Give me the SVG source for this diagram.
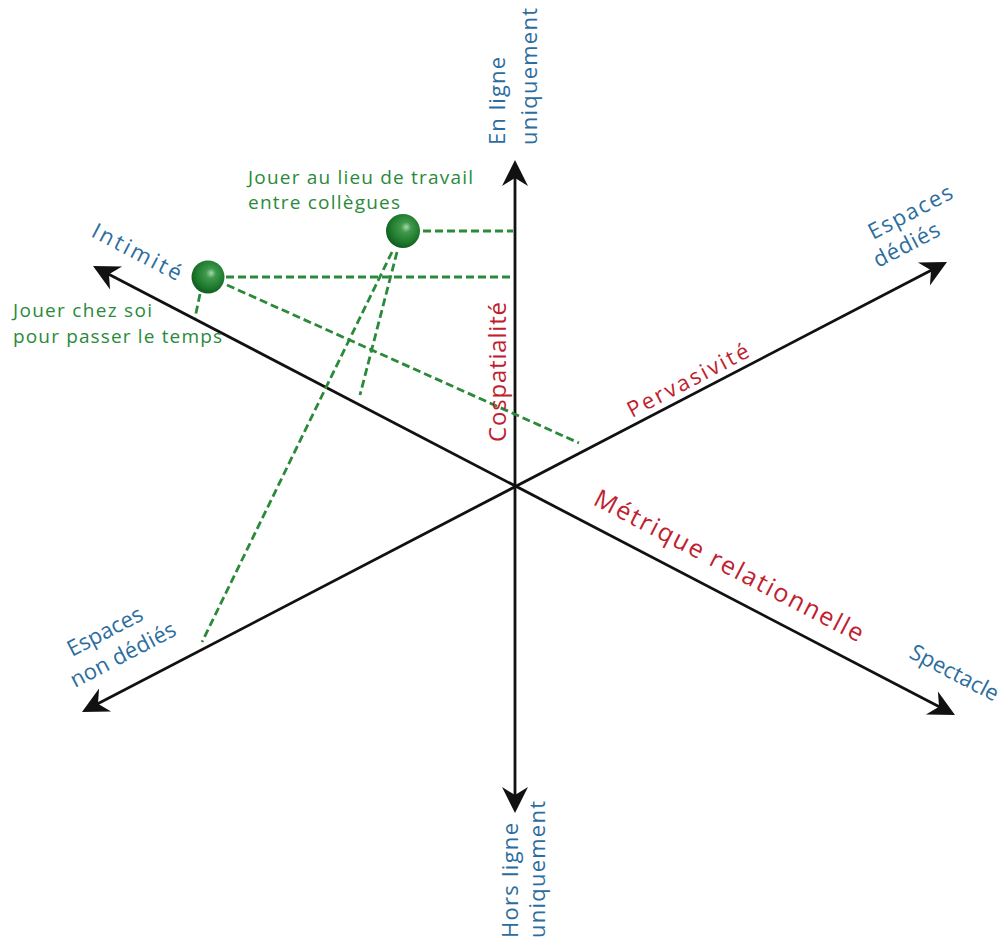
<svg xmlns="http://www.w3.org/2000/svg" width="1005" height="937" viewBox="0 0 1005 937">
<style>
.axis{stroke:#111;stroke-width:2.8;fill:none;marker-start:url(#arr);marker-end:url(#arr)}
.dash{stroke:#2a8a3a;stroke-width:2.8;stroke-dasharray:8 4;fill:none}
.blue{font-family:"Open Sans","Liberation Sans",sans-serif;font-size:22px;fill:#2c6d9e}
.red{font-family:"Open Sans","Liberation Sans",sans-serif;font-size:24px;fill:#c0202e}
.green{font-family:"Open Sans","Liberation Sans",sans-serif;font-size:19px;fill:#2a8a3a}
</style>
<defs>
<marker id="arr" markerUnits="userSpaceOnUse" markerWidth="40" markerHeight="40" refX="0" refY="0" viewBox="-20 -20 40 40" orient="auto-start-reverse" overflow="visible">
<path d="M8,0 L-18,-13 L-10,0 L-18,13 Z" fill="#111"/>
</marker>
<radialGradient id="ball" cx="0.55" cy="0.42" r="0.6" fx="0.6" fy="0.38">
<stop offset="0" stop-color="#a8d8ae"/>
<stop offset="0.25" stop-color="#3f9a4c"/>
<stop offset="0.7" stop-color="#1f7a2e"/>
<stop offset="1" stop-color="#0d5a1c"/>
</radialGradient>
</defs>
<rect width="1005" height="937" fill="#fff"/>
<g id="connectors">
<line class="axis" x1="515" y1="805" x2="515" y2="168"/>
<line class="axis" x1="947.9" y1="711.3" x2="100.1" y2="269.7"/>
<line class="axis" x1="89.1" y1="708.3" x2="939.9" y2="265.7"/>
<line class="dash" x1="423" y1="231" x2="513" y2="231"/>
<line class="dash" x1="226" y1="277" x2="513" y2="277"/>
<line class="dash" x1="200" y1="294" x2="195" y2="318"/>
<line class="dash" x1="227" y1="285" x2="579" y2="443"/>
<line class="dash" x1="392" y1="252" x2="202" y2="642"/>
<line class="dash" x1="397" y1="252" x2="360" y2="395"/>
</g>
<g id="node-travail">
<circle cx="403" cy="231" r="17" fill="url(#ball)"/>
<text class="green" x="248" y="184" textLength="225">Jouer au lieu de travail</text>
<text class="green" x="248" y="209" textLength="152">entre collègues</text>
</g>
<g id="node-chez-soi">
<circle cx="208" cy="277" r="16.5" fill="url(#ball)"/>
<text class="green" x="13" y="317" textLength="139">Jouer chez soi</text>
<text class="green" x="13" y="343" textLength="209">pour passer le temps</text>
</g>
<g id="label-en-ligne">
<text class="blue" transform="translate(505,145) rotate(-90)" textLength="88">En ligne</text>
<text class="blue" transform="translate(537,145) rotate(-90)" textLength="137">uniquement</text>
</g>
<g id="label-hors-ligne">
<text class="blue" transform="translate(518,938) rotate(-90)" textLength="115">Hors ligne</text>
<text class="blue" transform="translate(545,938) rotate(-90)" textLength="137">uniquement</text>
</g>
<g id="label-intimite">
<text class="blue" transform="translate(90,236) rotate(27.5)" textLength="98">Intimité</text>
</g>
<g id="label-spectacle">
<text class="blue" transform="translate(908,657) rotate(27.5)" textLength="97">Spectacle</text>
</g>
<g id="label-espaces-dedies">
<text class="blue" transform="translate(873,240) rotate(-27.5)" textLength="92">Espaces</text>
<text class="blue" transform="translate(878,268) rotate(-27.5)" textLength="72">dédiés</text>
</g>
<g id="label-espaces-non-dedies">
<text class="blue" transform="translate(72,657) rotate(-27.5)" textLength="82">Espaces</text>
<text class="blue" transform="translate(75,688) rotate(-27.5)" textLength="116">non dédiés</text>
</g>
<g id="label-cospatialite">
<text class="red" transform="translate(506,442) rotate(-90)" textLength="140">Cospatialité</text>
</g>
<g id="label-pervasivite">
<text class="red" style="font-size:22px" transform="translate(632,418) rotate(-27.5)" textLength="134">Pervasivité</text>
</g>
<g id="label-metrique">
<text class="red" style="font-size:25px" transform="translate(592,504) rotate(27.5)" textLength="300">Métrique relationnelle</text>
</g>
</svg>
